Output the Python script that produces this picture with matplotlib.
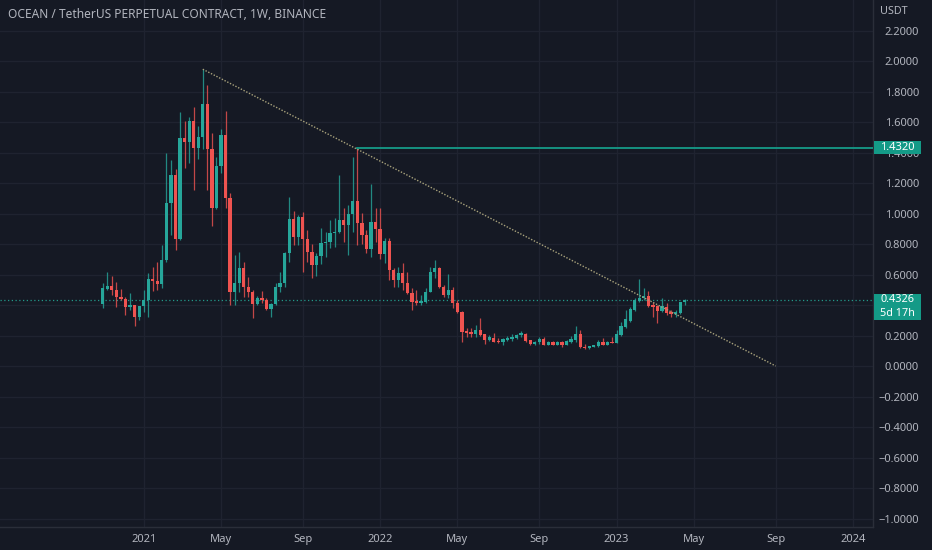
import matplotlib
matplotlib.use("Agg")
import matplotlib.pyplot as plt
import matplotlib.dates as mdates
import matplotlib.transforms as mtransforms
from matplotlib.patches import Rectangle
import numpy as np
import pandas as pd

# ---------------- data (weekly OCEAN/USDT) ----------------
last_week = "2023-04-17"
n_weeks = 129
opens = [0.405, 0.507, 0.525, 0.500, 0.455, 0.442, 0.389, 0.397, 0.319, 0.392,
         0.433, 0.572, 0.557, 0.540, 0.695, 1.071, 1.252, 0.831, 1.497, 1.471,
         1.605, 1.432, 1.504, 1.716, 1.421, 1.038, 1.311, 1.515, 1.100, 0.487,
         0.546, 0.641, 0.520, 0.483, 0.405, 0.446, 0.435, 0.372, 0.407, 0.520,
         0.546, 0.739, 0.964, 0.844, 0.979, 0.835, 0.749, 0.662, 0.721, 0.805,
         0.812, 0.870, 0.877, 0.957, 0.922, 0.997, 1.082, 0.936, 0.859, 0.765,
         0.946, 0.896, 0.734, 0.820, 0.630, 0.564, 0.608, 0.542, 0.480, 0.424,
         0.411, 0.422, 0.487, 0.614, 0.641, 0.520, 0.466, 0.498, 0.411, 0.352,
         0.232, 0.226, 0.210, 0.236, 0.210, 0.170, 0.184, 0.166, 0.159, 0.170,
         0.176, 0.184, 0.201, 0.210, 0.170, 0.144, 0.155, 0.175, 0.140, 0.157,
         0.140, 0.157, 0.140, 0.158, 0.170, 0.210, 0.127, 0.116, 0.127, 0.131,
         0.159, 0.138, 0.159, 0.153, 0.203, 0.254, 0.297, 0.367, 0.428, 0.444,
         0.459, 0.400, 0.393, 0.363, 0.389, 0.356, 0.339, 0.346, 0.418]
highs = [0.544, 0.617, 0.590, 0.551, 0.505, 0.450, 0.480, 0.397, 0.392, 0.498,
         0.612, 0.647, 0.682, 0.793, 1.395, 1.351, 1.290, 1.664, 1.607, 1.635,
         1.700, 1.574, 1.946, 1.843, 1.530, 1.372, 1.552, 1.672, 1.132, 0.728,
         0.750, 0.684, 0.586, 0.498, 0.459, 0.494, 0.448, 0.415, 0.542, 0.618,
         0.750, 1.110, 1.018, 0.990, 1.012, 0.892, 0.800, 0.743, 0.903, 0.880,
         0.957, 0.968, 1.252, 1.034, 1.056, 1.372, 1.432, 1.005, 0.892, 1.193,
         1.034, 1.034, 0.837, 0.837, 0.641, 0.651, 0.673, 0.618, 0.510, 0.498,
         0.466, 0.510, 0.651, 0.695, 0.651, 0.531, 0.603, 0.520, 0.433, 0.363,
         0.247, 0.247, 0.269, 0.313, 0.210, 0.203, 0.214, 0.181, 0.181, 0.197,
         0.210, 0.210, 0.230, 0.214, 0.170, 0.166, 0.188, 0.188, 0.166, 0.166,
         0.162, 0.162, 0.170, 0.197, 0.262, 0.236, 0.144, 0.131, 0.140, 0.170,
         0.181, 0.162, 0.192, 0.236, 0.290, 0.367, 0.389, 0.444, 0.569, 0.510,
         0.494, 0.422, 0.400, 0.444, 0.415, 0.367, 0.367, 0.422, 0.437]
lows = [0.380, 0.498, 0.466, 0.389, 0.433, 0.334, 0.367, 0.262, 0.300, 0.356,
        0.323, 0.494, 0.498, 0.510, 0.684, 0.859, 0.761, 0.826, 1.300, 1.329,
        1.154, 1.355, 1.421, 1.154, 0.918, 1.030, 1.268, 1.034, 0.400, 0.400,
        0.487, 0.454, 0.454, 0.317, 0.400, 0.411, 0.367, 0.323, 0.400, 0.487,
        0.520, 0.684, 0.793, 0.793, 0.618, 0.684, 0.579, 0.590, 0.669, 0.717,
        0.772, 0.782, 0.870, 0.815, 0.728, 0.880, 0.793, 0.800, 0.739, 0.713,
        0.815, 0.700, 0.673, 0.564, 0.520, 0.520, 0.498, 0.470, 0.367, 0.400,
        0.400, 0.415, 0.483, 0.575, 0.510, 0.454, 0.444, 0.378, 0.346, 0.159,
        0.188, 0.188, 0.188, 0.200, 0.144, 0.166, 0.155, 0.153, 0.138, 0.166,
        0.166, 0.176, 0.188, 0.159, 0.140, 0.140, 0.144, 0.138, 0.138, 0.136,
        0.138, 0.127, 0.138, 0.149, 0.159, 0.116, 0.111, 0.111, 0.125, 0.127,
        0.138, 0.136, 0.149, 0.149, 0.197, 0.247, 0.290, 0.362, 0.422, 0.433,
        0.389, 0.323, 0.280, 0.356, 0.334, 0.323, 0.323, 0.341, 0.400]
closes = [0.510, 0.525, 0.500, 0.455, 0.442, 0.389, 0.397, 0.319, 0.392, 0.433,
          0.572, 0.557, 0.540, 0.695, 1.071, 1.252, 0.831, 1.497, 1.471, 1.605,
          1.432, 1.504, 1.716, 1.421, 1.038, 1.311, 1.515, 1.100, 0.487, 0.546,
          0.641, 0.520, 0.483, 0.405, 0.446, 0.435, 0.372, 0.407, 0.520, 0.546,
          0.739, 0.964, 0.844, 0.979, 0.835, 0.749, 0.662, 0.721, 0.809, 0.812,
          0.874, 0.877, 0.957, 0.922, 0.997, 1.082, 0.936, 0.859, 0.765, 0.946,
          0.896, 0.734, 0.820, 0.630, 0.564, 0.608, 0.542, 0.477, 0.422, 0.411,
          0.424, 0.487, 0.614, 0.641, 0.520, 0.466, 0.498, 0.411, 0.352, 0.225,
          0.214, 0.212, 0.236, 0.203, 0.170, 0.188, 0.159, 0.157, 0.175, 0.181,
          0.192, 0.201, 0.214, 0.166, 0.144, 0.159, 0.175, 0.138, 0.157, 0.140,
          0.157, 0.140, 0.162, 0.175, 0.210, 0.123, 0.116, 0.131, 0.138, 0.159,
          0.138, 0.159, 0.153, 0.210, 0.262, 0.306, 0.372, 0.433, 0.448, 0.459,
          0.395, 0.389, 0.363, 0.393, 0.346, 0.341, 0.356, 0.418, 0.4326]

last_price = 0.4326
countdown = "5d 17h"
level_price = 1.4320
level_start = "2021-11-29"
trend_start = ("2021-04-05", 1.946)
trend_end = ("2023-09-04", 0.0)

x_tick_dates = ["2021-01-04", "2021-05-03", "2021-09-06", "2022-01-03", "2022-05-02",
                "2022-09-05", "2023-01-02", "2023-05-01", "2023-09-04", "2024-01-01"]
x_tick_labels = ["2021", "May", "Sep", "2022", "May", "Sep", "2023", "May", "Sep", "2024"]
y_ticks = [-1.0, -0.8, -0.6, -0.4, -0.2, 0.0, 0.2, 0.4, 0.6, 0.8, 1.0, 1.2, 1.4, 1.6,
           1.8, 2.0, 2.2]

title = "OCEAN / TetherUS PERPETUAL CONTRACT, 1W, BINANCE"

# ---------------- style ----------------
BG = "#151924"
GRID = "#1f2330"
TXT = "#b2b5be"
UP = "#26a69a"
DN = "#ef5350"
SEP = "#2a2e39"
BOX = "#149a87"
FONT = "Noto Sans"

W, H = 932, 550
fig = plt.figure(figsize=(W / 100, H / 100), dpi=100, facecolor=BG)
ax = fig.add_axes([0, 23 / H, 873 / W, 527 / H], facecolor=BG)

dates = pd.date_range(end=last_week, periods=n_weeks, freq="W-MON")
xd = mdates.date2num(dates.to_pydatetime())
o = np.array(opens); h = np.array(highs); l = np.array(lows); c = np.array(closes)
up = c >= o
col = np.where(up, UP, DN)

# wicks
ax.vlines(xd, l, h, colors=col, linewidth=0.9, alpha=0.8, zorder=3)
# bodies
body_lo = np.minimum(o, c)
body_h = np.maximum(np.abs(c - o), 0.007)
ax.bar(xd, body_h, bottom=body_lo, width=5.0, color=col, linewidth=0, zorder=4)

# x limits (weeks before first / after last candle)
x0 = xd[0] - 22.6 * 7
x1 = xd[-1] + 41.4 * 7
ax.set_xlim(x0, x1)
ax.set_ylim(-1.0557, 2.40)

# grid
tick_x = mdates.date2num(pd.to_datetime(x_tick_dates).to_pydatetime())
for tx in tick_x:
    ax.axvline(tx, color=GRID, linewidth=1, zorder=0)
for ty in y_ticks:
    ax.axhline(ty, color=GRID, linewidth=1, zorder=0)

# trend line
td = mdates.date2num(pd.to_datetime([trend_start[0], trend_end[0]]).to_pydatetime())
ax.plot(td, [trend_start[1], trend_end[1]], color="#a8a27c", linewidth=1.0,
        linestyle=(0, (1, 1.2)), zorder=5)

# horizontal level
ls = mdates.date2num(pd.Timestamp(level_start).to_pydatetime())
ax.plot([ls, x1], [level_price, level_price], color="#159b88", linewidth=1.3, zorder=5)

# last price dotted line
ax.axhline(last_price, color="#22998a", linewidth=0.9, linestyle=(0, (1, 2)), zorder=2)

# axes / spines
for s in ["top", "left"]:
    ax.spines[s].set_visible(False)
ax.spines["right"].set_color(SEP)
ax.spines["bottom"].set_color(SEP)
ax.spines["right"].set_linewidth(1)
ax.spines["bottom"].set_linewidth(1)

ax.set_xticks(tick_x)
ax.set_xticklabels(x_tick_labels)
ax.tick_params(axis="x", length=0, pad=5, colors=TXT, labelsize=8)
for lab, txt in zip(ax.get_xticklabels(), x_tick_labels):
    lab.set_fontfamily(FONT)
    if txt.isdigit():
        lab.set_fontweight("bold")

# price scale labels (0.4000 is fully covered by the last-price box in the reference)
ax.yaxis.tick_right()
ax.set_yticks(y_ticks)
ylabels = [f"{v:.4f}".replace("-", "\u2212") for v in y_ticks]
ylabels = ["" if abs(v - 0.4) < 1e-9 else s for v, s in zip(y_ticks, ylabels)]
ax.set_yticklabels(ylabels)
ax.tick_params(axis="y", length=0, pad=33, colors=TXT, labelsize=8)
for lab in ax.get_yticklabels():
    lab.set_fontfamily(FONT)
    lab.set_horizontalalignment("right")

# title and unit
fig.text(8 / W, 1 - 14 / H, title, color=TXT, fontsize=8.6, fontweight="semibold",
         family=FONT, ha="left", va="center")
fig.text(880 / W, 1 - 11 / H, "USDT", color=TXT, fontsize=7.8, family=FONT,
         ha="left", va="center")

# price label boxes on the scale
bt = mtransforms.blended_transform_factory(fig.transFigure, ax.transData)
px = 1 / 152.5
ax.add_patch(Rectangle((874 / W, level_price - 6.5 * px), 47 / W, 13 * px,
                       transform=bt, facecolor=BOX, edgecolor="none",
                       clip_on=False, zorder=10))
fig.text(897.5 / W, level_price, "1.4320", transform=bt, color="white", fontsize=8,
         family=FONT, ha="center", va="center", zorder=11)

ax.add_patch(Rectangle((874 / W, last_price - 19.5 * px), 47 / W, 26 * px,
                       transform=bt, facecolor=BOX, edgecolor="none",
                       clip_on=False, zorder=10))
fig.text(897.5 / W, last_price + 0.5 * px, f"{last_price:.4f}", transform=bt,
         color="white", fontsize=7.8, family=FONT, ha="center", va="center", zorder=11)
fig.text(897.5 / W, last_price - 13.5 * px, countdown, transform=bt, color="white",
         fontsize=7.8, family=FONT, ha="center", va="center", zorder=11)

fig.savefig("out.png", dpi=100, facecolor=BG)
